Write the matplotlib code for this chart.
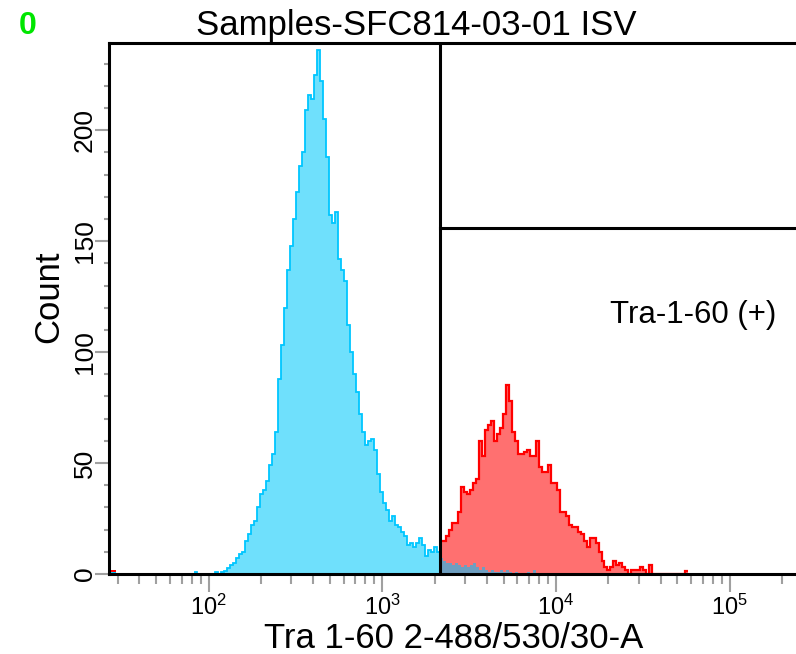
import numpy as np
import matplotlib
matplotlib.use('Agg')
import matplotlib.pyplot as plt
from matplotlib import font_manager
from matplotlib.ticker import LogLocator, NullFormatter, FixedLocator

# font: narrow bitmap-looking face if it exists
names = {f.name for f in font_manager.fontManager.ttflist}
fam = 'Liberation Sans Narrow' if 'Liberation Sans Narrow' in names else 'Liberation Sans'
plt.rcParams['font.family'] = [fam, 'DejaVu Sans']
plt.rcParams['mathtext.fontset'] = 'custom'
plt.rcParams['mathtext.rm'] = fam
plt.rcParams['mathtext.it'] = fam
plt.rcParams['mathtext.bf'] = fam

# ---- data ----
title = 'Samples-SFC814-03-01 ISV'
x_label = 'Tra 1-60 2-488/530/30-A'
y_label = 'Count'
gate_label = 'Tra-1-60 (+)'
gate_x = 2150.0
gate_y = 156.0

# histogram grid (log10 space)
bin_origin = 1.4
bins_per_decade = 58

# leftmost pile-up bins (off-scale low)
low_start = 2
cyan_low = [1, 1]
red_low = [2, 2]

cyan_start = 30
cyan_counts = [1, 0, 0, 0, 0, 0, 0, 1, 0,
               1, 1.5, 2.5, 4, 5, 7, 9, 10, 15, 18,
               22, 24, 30, 36, 38, 42, 49, 54, 64, 88,
               103, 120, 137, 148, 160, 172, 184, 190, 209, 216,
               214, 225, 236, 222, 205, 188, 162, 158, 163, 142,
               137, 132, 112, 100, 90, 82, 72, 64, 58, 60,
               61, 56, 45, 37, 32, 29, 24, 26, 22, 21,
               19, 17, 13, 14, 12, 14, 16, 13, 8, 11,
               10, 12, 10, 7, 6, 5, 5, 4, 5, 4,
               3, 4, 3, 4, 5, 3, 2, 3, 2, 1,
               2, 1, 1, 2, 1, 2, 1, 0, 1, 0,
               0, 0, 1, 0, 2]

red_start = 112
red_counts = [15, 15, 17, 20, 23, 23, 28, 39, 37, 36,
              38, 41, 43, 60, 53, 65, 67, 69, 60, 63,
              66, 72, 85, 78, 64, 60, 54, 54, 55, 56,
              53, 53, 60, 48, 46, 46, 49, 41, 41, 38,
              28, 28, 26, 22, 21, 21, 19, 18, 15, 12,
              16, 16, 14, 10, 6, 3, 2, 3, 6, 4,
              5, 3, 2, 0, 2, 2, 2, 3, 2, 0,
              4, 0, 0, 0, 0, 0, 0, 0, 0, 0,
              0, 0, 1.5]

cyan_fill, cyan_line = '#6FE0FC', '#00C6FF'
red_fill, red_line = '#FF7070', '#FF0000'
mix_fill = '#6E9EC0'


def edges_for(start, n):
    k = np.arange(start, start + n + 1)
    return 10 ** (bin_origin + k / bins_per_decade)


fig = plt.figure(figsize=(7.96, 6.54), dpi=100)
W, H = 796, 654
ax = fig.add_axes([109 / W, 1 - 574 / H, (802.4 - 109) / W, (574 - 43) / H])

cyan = np.array(cyan_counts, dtype=float)
red = np.array(red_counts, dtype=float)
ce = edges_for(cyan_start, len(cyan))
re_ = edges_for(red_start, len(red))

# cyan population
ax.stairs(cyan, ce, fill=True, color=cyan_fill, lw=0, zorder=2)
ax.stairs(cyan, ce, color=cyan_line, lw=1.3, baseline=None, zorder=3)
# red (gated) population
ax.stairs(red, re_, fill=True, color=red_fill, lw=0, zorder=4)
ax.stairs(red, re_, color=red_line, lw=1.6, baseline=None, zorder=5)
# overlap of cyan tail under red
off = red_start - cyan_start
n_ov = min(len(red), len(cyan) - off)
ov = np.minimum(red[:n_ov], cyan[off:off + n_ov])
ax.stairs(ov, edges_for(red_start, n_ov), fill=True, color=mix_fill, lw=0, zorder=6)

# off-scale pile-up
le = edges_for(low_start, len(red_low))
ax.stairs(red_low, le, fill=True, color=red_line, lw=0, zorder=2)
ax.stairs(cyan_low, le, fill=True, color=cyan_line, lw=0, zorder=3)

# gate marker
ax.axvline(gate_x, color='black', lw=2.2, zorder=7)
ax.plot([gate_x, 3e5], [gate_y, gate_y], color='black', lw=2.2, zorder=7, clip_on=False)

ax.set_xscale('log')
ax.set_xlim(10 ** 1.427, 262144)
ax.set_ylim(0, 239.3)

for s in ['left', 'bottom', 'top']:
    ax.spines[s].set_linewidth(2.2)
    ax.spines[s].set_color('black')
ax.spines['right'].set_visible(False)
for s in ax.spines.values():
    s.set_zorder(8)

ax.xaxis.set_major_locator(FixedLocator([1e2, 1e3, 1e4, 1e5]))
ax.xaxis.set_minor_locator(LogLocator(base=10, subs=np.arange(2, 10)))
ax.xaxis.set_minor_formatter(NullFormatter())
ax.set_xticklabels([r'$10^{2}$', r'$10^{3}$', r'$10^{4}$', r'$10^{5}$'])
ax.set_yticks([0, 50, 100, 150, 200])
ax.set_yticks(np.arange(10, 240, 10), minor=True)
ax.set_yticklabels(['0', '50', '100', '150', '200'], rotation=90, va='center')

tc = '#A0A0A0'
ax.tick_params(axis='x', which='major', length=13, width=1.5, color=tc, pad=2, labelsize=17)
ax.tick_params(axis='x', which='minor', length=7, width=1.5, color=tc)
ax.tick_params(axis='y', which='major', length=10, width=1.5, color=tc, pad=-1, labelsize=19)
ax.tick_params(axis='y', which='minor', length=3.6, width=1.5, color=tc)

fig.text(416 / W, 1 - 35 / H, title, ha='center', va='baseline', fontsize=25)
fig.text(454 / W, 1 - 648 / H, x_label, ha='center', va='baseline', fontsize=25)
fig.text(49 / W, 1 - 297 / H, y_label, ha='center', va='center', rotation=90, fontsize=25)
fig.text(610 / W, 1 - 323 / H, gate_label, ha='left', va='baseline', fontsize=22.5)
fig.text(27.5 / W, 1 - 34 / H, '0', ha='center', va='baseline', fontsize=23,
         color='#00E600', fontweight='bold')

fig.savefig('out.png', dpi=100)
